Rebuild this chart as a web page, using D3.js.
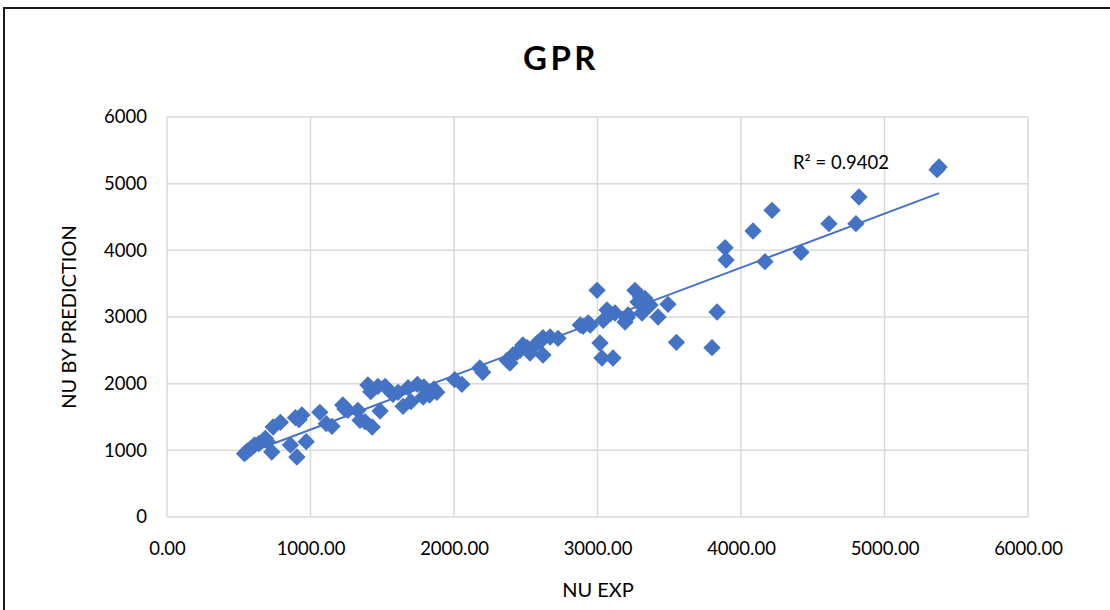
<!DOCTYPE html>
<html>
<head>
<meta charset="utf-8">
<script src="https://cdn.jsdelivr.net/npm/d3@7"></script>
<style>
  body { margin: 0; background: #fff; }
  text { font-family: Lato, "Open Sans", sans-serif; fill: #000; }
</style>
</head>
<body>
<div id="chart"></div>
<script>
const nuExp = [
  540, 560, 585, 610, 640, 685, 730, 700, 740, 790, 860, 905, 895, 940, 970, 920,
  1065, 1110, 1150, 1225, 1260, 1240, 1330, 1345, 1380, 1400, 1430, 1420, 1470, 1485,
  1520, 1575, 1610, 1645, 1680, 1700, 1745, 1785, 1790, 1830, 1880, 1860,
  2005, 2055, 2180, 2200, 2370, 2390, 2410, 2440, 2460, 2480, 2510, 2530, 2580, 2600,
  2620, 2620, 2670, 2725, 2880, 2900, 2935, 2950, 2997,
  3017, 3031, 3108, 3040, 3066, 3090, 3122, 3192, 3206, 3213, 3261, 3282, 3300, 3310,
  3330, 3366, 3422, 3491, 3550, 3798, 3833, 3889, 3896, 4084, 4167, 4216, 4418, 4613,
  4801, 4822, 5366, 5380
];
const nuPred = [
  950, 990, 1030, 1080, 1100, 1180, 975, 1130, 1350, 1420, 1080, 900, 1490, 1530, 1130, 1460,
  1570, 1400, 1360, 1680, 1600, 1620, 1600, 1450, 1430, 1980, 1350, 1880, 1960, 1590,
  1960, 1840, 1870, 1660, 1940, 1730, 1990, 1800, 1950, 1830, 1870, 1920,
  2060, 1990, 2235, 2170, 2350, 2310, 2430, 2470, 2500, 2580, 2540, 2460, 2610, 2630,
  2430, 2690, 2700, 2680, 2880, 2860, 2910, 2880, 3400,
  2610, 2385, 2385, 2950, 3105, 3050, 3060, 2925, 2990, 3030, 3400, 3225, 3300, 3060,
  3280, 3180, 3000, 3190, 2620, 2540, 3075, 4040, 3855, 4290, 3830, 4600, 3970, 4400,
  4400, 4800, 5210, 5250
];
const xTicks = [0, 1000, 2000, 3000, 4000, 5000, 6000];
const yTicks = [0, 1000, 2000, 3000, 4000, 5000, 6000];
const chartTitle = "GPR";
const xTitle = "NU EXP";
const yTitle = "NU BY PREDICTION";
const r2Label = "R\u00b2 = 0.9402";

const W = 1110, H = 610;
const margin = { left: 167, right: 82, top: 117, bottom: 93 };
const blue = "#4472c4";

const svg = d3.select("#chart").append("svg")
  .attr("width", W).attr("height", H);

// outer frame
svg.append("rect")
  .attr("x", 4).attr("y", 8)
  .attr("width", W + 10).attr("height", H + 10)
  .attr("fill", "none").attr("stroke", "#1a1a1a").attr("stroke-width", 2);

const x = d3.scaleLinear().domain([0, 6000]).range([margin.left, W - margin.right]);
const y = d3.scaleLinear().domain([0, 6000]).range([H - margin.bottom, margin.top]);

// gridlines
svg.append("g").selectAll("line").data(xTicks).join("line")
  .attr("x1", d => x(d)).attr("x2", d => x(d))
  .attr("y1", y(0)).attr("y2", y(6000))
  .attr("stroke", "#d9d9d9").attr("stroke-width", 1.5);
svg.append("g").selectAll("line").data(yTicks).join("line")
  .attr("y1", d => y(d)).attr("y2", d => y(d))
  .attr("x1", x(0)).attr("x2", x(6000))
  .attr("stroke", "#d9d9d9").attr("stroke-width", 1.5);

// axes (labels only)
const xAxis = svg.append("g")
  .attr("transform", `translate(0,${y(0)})`)
  .call(d3.axisBottom(x).tickValues(xTicks).tickFormat(d3.format(".2f")).tickSize(0).tickPadding(25));
const yAxis = svg.append("g")
  .attr("transform", `translate(${x(0)},0)`)
  .call(d3.axisLeft(y).tickValues(yTicks).tickFormat(d3.format("d")).tickSize(0).tickPadding(20));
[xAxis, yAxis].forEach(a => {
  a.select(".domain").remove();
  a.selectAll("text").attr("font-size", 18.5).attr("fill", "#000")
    .style("font-family", "Lato, 'Open Sans', sans-serif");
});

// trend line (least squares over the points)
const n = nuExp.length;
const mx = d3.mean(nuExp), my = d3.mean(nuPred);
let sxy = 0, sxx = 0;
for (let i = 0; i < n; i++) {
  sxy += (nuExp[i] - mx) * (nuPred[i] - my);
  sxx += (nuExp[i] - mx) ** 2;
}
const slope = sxy / sxx, icpt = my - slope * mx;
const [xmin, xmax] = d3.extent(nuExp);

// points
const diamond = d3.symbol(d3.symbolSquare, 150);
svg.append("g").selectAll("path").data(d3.range(n)).join("path")
  .attr("d", diamond)
  .attr("transform", i => `translate(${x(nuExp[i])},${y(nuPred[i])}) rotate(45)`)
  .attr("fill", blue);

svg.append("line")
  .attr("x1", x(xmin)).attr("y1", y(icpt + slope * xmin))
  .attr("x2", x(xmax)).attr("y2", y(icpt + slope * xmax))
  .attr("stroke", blue).attr("stroke-width", 2);

svg.append("text")
  .attr("x", 841).attr("y", 169)
  .attr("text-anchor", "middle").attr("font-size", 18.5)
  .text(r2Label);

// titles
svg.append("text")
  .attr("x", 561).attr("y", 70)
  .attr("text-anchor", "middle").attr("font-size", 33).attr("font-weight", "bold")
  .attr("letter-spacing", 3.5)
  .text(chartTitle);
svg.append("text")
  .attr("x", 598).attr("y", 597)
  .attr("text-anchor", "middle").attr("font-size", 20)
  .text(xTitle);
svg.append("text")
  .attr("transform", `translate(76,${(y(0) + y(6000)) / 2}) rotate(-90)`)
  .attr("text-anchor", "middle").attr("font-size", 20)
  .text(yTitle);
</script>
</body>
</html>
